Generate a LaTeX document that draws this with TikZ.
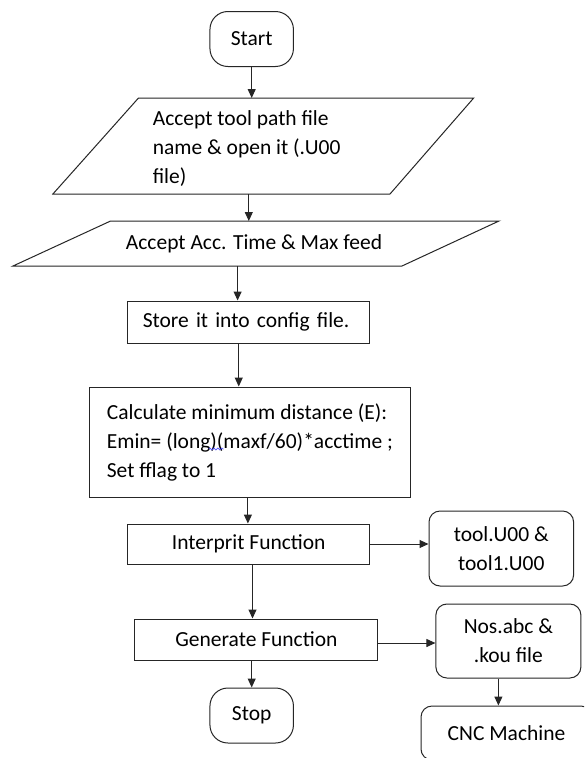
\documentclass[tikz,border=0pt]{standalone}
\usepackage{fontspec}
\setmainfont{Carlito}
\usetikzlibrary{arrows.meta,decorations.pathmorphing}
\begin{document}
\begin{tikzpicture}[x=1pt,y=-1pt,
  every node/.style={font=\fontsize{21.5}{29}\selectfont},
  line/.style={draw=black!85, line width=1pt},
  arr/.style={line,-{Triangle[length=9pt,width=8pt]}},
  box/.style={line, rectangle, inner sep=0pt, align=center},
  term/.style={line, rectangle, rounded corners=18pt, inner sep=0pt, minimum width=83.5pt, minimum height=55pt},
  rbox/.style={line, rectangle, rounded corners=11pt, inner sep=0pt, align=center}]
\useasboundingbox (0,0) rectangle (584,758);
\fill[white] (0,0) rectangle (584,758);
\clip (0,0) rectangle (584,758);

% terminals
\node[term] (start) at (251.7,39) {Start};
\node[term] (stop) at (251.7,715.5) {Stop};

% input parallelograms
\draw[line] (138.5,98) -- (473.7,98) -- (390,194) -- (52.9,194) -- cycle;
\node[align=left, inner sep=0pt] (p1) at (246.7,148.5) {Accept tool path file\\name \& open it (.U00\\file)};
\coordinate (p1n) at (251.7,98);
\coordinate (p1s) at (248.8,194);

\draw[line] (110.6,221) -- (499,221) -- (402,266) -- (13,266) -- cycle;
\node[inner sep=0pt] (p2) at (254,244) {Accept Acc. Time \& Max feed};
\coordinate (p2n) at (248.8,221);
\coordinate (p2s) at (237.6,266);

% process boxes
\node[box, text width=212pt, align=left, inner xsep=15pt, minimum height=42pt] (store) at (248.75,322) {Store it into config file.};
\node[box, align=left, minimum width=321pt, minimum height=110pt] (calc) at (249.9,442)
  {Calculate minimum distance (E):\\Emin= (long)(maxf/60)*acctime ;\\Set fflag to 1};
\node[box, minimum width=242pt, minimum height=40pt] (interp) at (248.75,544) {Interprit Function};
\node[box, minimum width=243pt, minimum height=41pt] (gen) at (256.4,639.5) {Generate Function};

% side boxes
\node[rbox, minimum width=144.6pt, minimum height=75pt] (tool) at (501.3,548.5) {tool.U00 \&\\tool1.U00};
\node[rbox, minimum width=145pt, minimum height=74pt] (nos) at (508.4,641) {Nos.abc \&\\.kou file};
\node[rbox, minimum width=171pt, minimum height=54pt] (cnc) at (506.5,733) {CNC Machine};

% spell-check squiggle
\draw[blue!70, line width=0.6pt, decorate, decoration={snake, amplitude=1pt, segment length=4pt}] (208.6,449) -- (223.5,449);

% connectors
\draw[arr] (start.south) -- (p1n);
\draw[arr] (p1s) -- (p2n);
\draw[arr] (p2s) -- (p2s |- store.north);
\draw[arr] ([xshift=-10pt]store.south) -- ([xshift=-10pt]store.south |- calc.north);
\draw[arr] ([xshift=-2pt]calc.south) -- ([xshift=-2pt]calc.south |- interp.north);
\draw[arr] (interp.east) -- (interp.east -| tool.west);
\draw[arr] ([xshift=3.75pt]interp.south) -- ([xshift=3.75pt]interp.south |- gen.north);
\draw[arr] ([yshift=-3.5pt]gen.east) -- ([yshift=-3.5pt]gen.east -| nos.west);
\draw[arr] (gen.south -| stop.north) -- (stop.north);
\draw[arr] ([xshift=-10pt]nos.south) -- ([xshift=-10pt]nos.south |- cnc.north);
\end{tikzpicture}
\end{document}
